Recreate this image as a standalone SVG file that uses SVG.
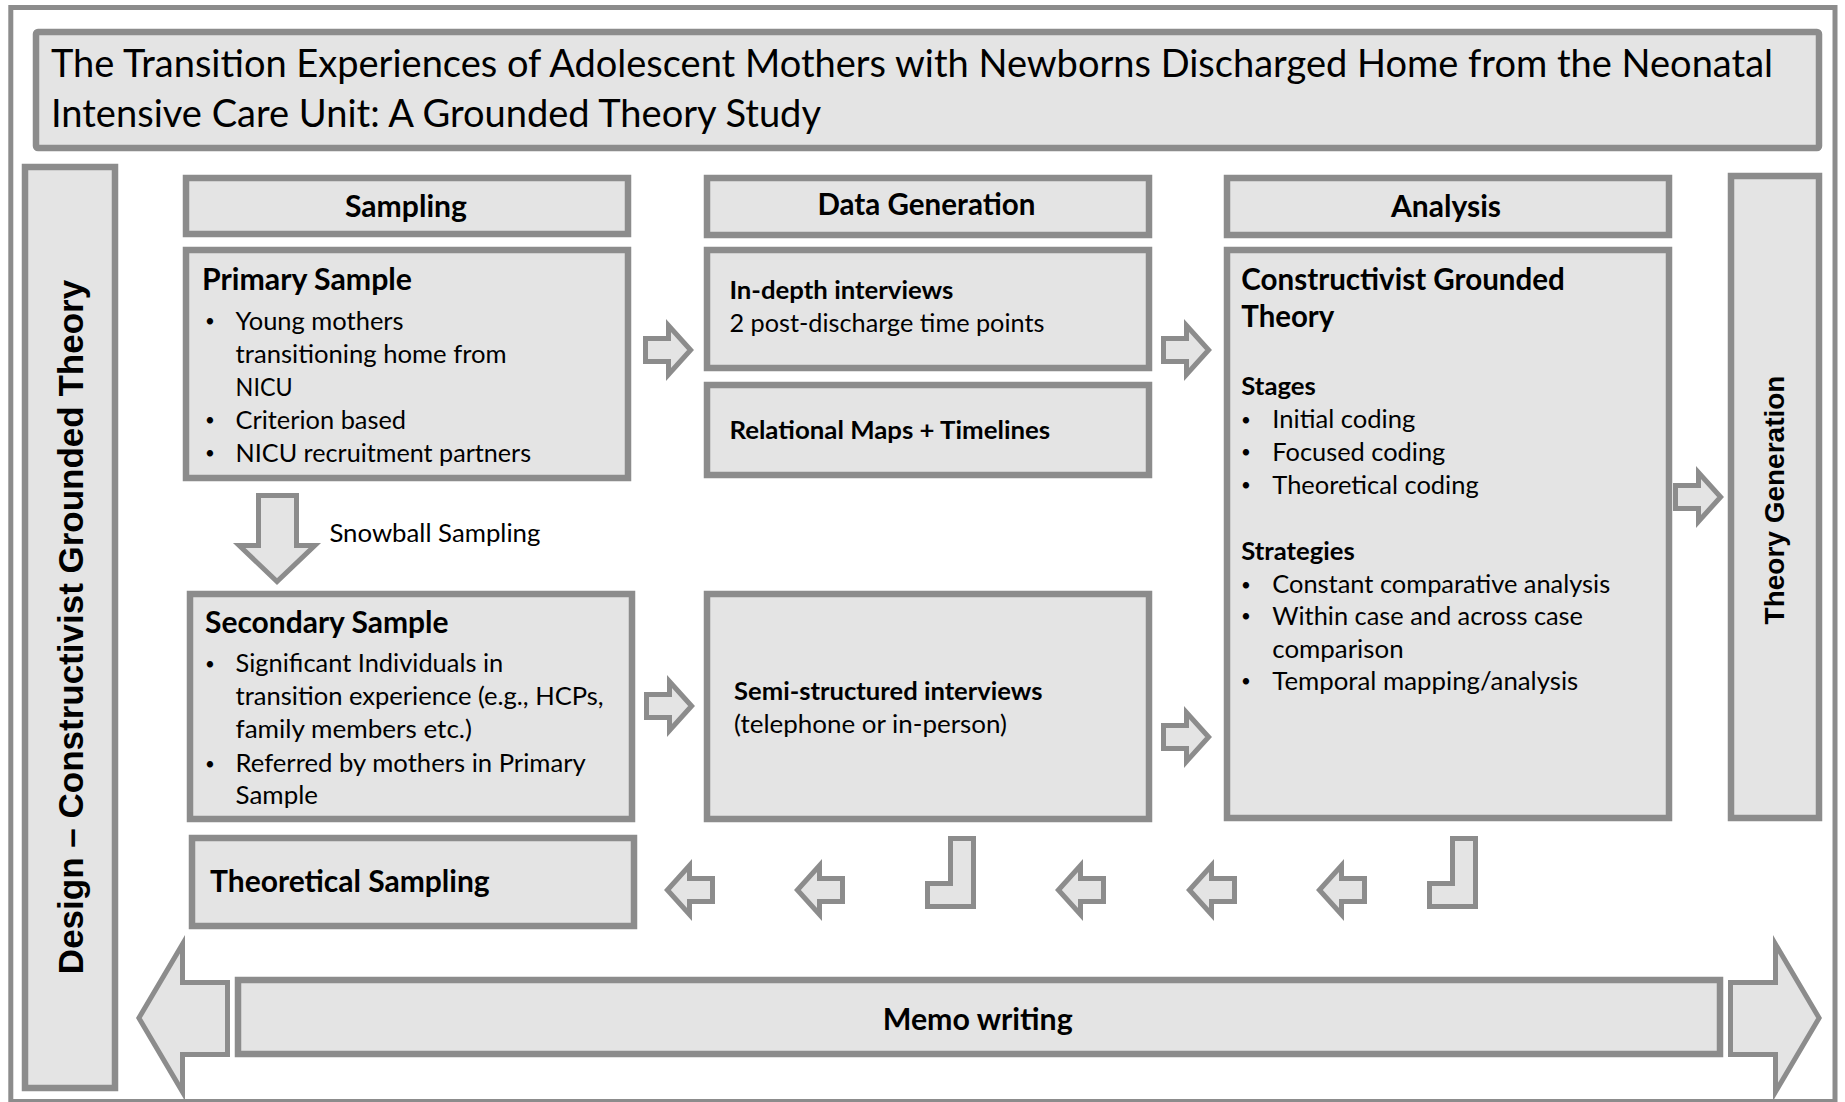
<svg xmlns="http://www.w3.org/2000/svg" width="1845" height="1102" viewBox="0 0 1845 1102">
  <style>
    .box{fill:#e4e4e4;stroke:#8c8c8c;stroke-width:6.5}
    .frame{fill:none;stroke:#8c8c8c;stroke-width:5}
    .arw{fill:#e4e4e4;stroke:#8c8c8c;stroke-width:5;stroke-linejoin:miter;stroke-miterlimit:10}
    .t{font-family:Lato,"Open Sans","Liberation Sans",sans-serif;fill:#000}
    .r{font-size:25.5px}
    .bul{font-size:17px}
    .b27{font-size:25.5px;font-weight:bold}
    .b32{font-size:30px;font-weight:bold}
    .title{font-size:38.5px}
    .v{font-family:"Liberation Sans",Arial,sans-serif;font-weight:bold;fill:#000}
  </style>
  <defs>
    <!-- block arrow pointing right; origin at tail, vertically centred -->
    <path id="rarrow" d="M2.5,-11.5 H25.5 V-24.4 L47.6,0 L25.5,24.4 V11.5 H2.5 Z"/>
  </defs>

  <rect x="0" y="0" width="1845" height="1102" fill="#ffffff"/>
  <rect class="frame" x="10.8" y="7.5" width="1824.2" height="1094"/>

  <g id="title">
    <rect class="box" x="36" y="32" width="1783" height="116" rx="2"/>
    <text class="t title" x="51" y="77" textLength="1722" lengthAdjust="spacingAndGlyphs">The Transition Experiences of Adolescent Mothers with Newborns Discharged Home from the Neonatal</text>
    <text class="t title" x="51" y="126.5" textLength="770" lengthAdjust="spacingAndGlyphs">Intensive Care Unit: A Grounded Theory Study</text>
  </g>

  <g id="design">
    <rect class="box" x="25" y="167" width="90" height="921"/>
    <text class="v" font-size="35" text-anchor="middle" transform="translate(83,627) rotate(-90)">Design – Constructivist Grounded Theory</text>
  </g>

  <g id="sampling-header">
    <rect class="box" x="186" y="178" width="442" height="56"/>
    <text class="t b32" x="345" y="217" textLength="122" lengthAdjust="spacingAndGlyphs">Sampling</text>
  </g>

  <g id="primary-sample">
    <rect class="box" x="186" y="250" width="442" height="228"/>
    <text class="t b32" x="202" y="289.5" textLength="210" lengthAdjust="spacingAndGlyphs">Primary Sample</text>
    <g class="t bul" text-anchor="middle">
      <text x="210" y="327">•</text>
      <text x="210" y="426">•</text>
      <text x="210" y="459">•</text>
    </g>
    <g class="t r">
      <text x="235.6" y="329.5" textLength="168" lengthAdjust="spacingAndGlyphs">Young mothers</text>
      <text x="235.6" y="362.5" textLength="271" lengthAdjust="spacingAndGlyphs">transitioning home from</text>
      <text x="235.6" y="395.5" textLength="57" lengthAdjust="spacingAndGlyphs">NICU</text>
      <text x="235.6" y="428.5" textLength="170.5" lengthAdjust="spacingAndGlyphs">Criterion based</text>
      <text x="235.6" y="461.5" textLength="295.5" lengthAdjust="spacingAndGlyphs">NICU recruitment partners</text>
    </g>
  </g>

  <g id="snowball-label">
    <text class="t r" x="329.4" y="541.5" textLength="211" lengthAdjust="spacingAndGlyphs">Snowball Sampling</text>
  </g>

  <g id="secondary-sample">
    <rect class="box" x="190" y="594" width="442" height="225"/>
    <text class="t b32" x="205" y="632.5" textLength="243.5" lengthAdjust="spacingAndGlyphs">Secondary Sample</text>
    <g class="t bul" text-anchor="middle">
      <text x="210" y="670">•</text>
      <text x="210" y="769.5">•</text>
    </g>
    <g class="t r">
      <text x="235.6" y="672.2" textLength="267.6" lengthAdjust="spacingAndGlyphs">Significant Individuals in</text>
      <text x="235.6" y="704.8" textLength="368" lengthAdjust="spacingAndGlyphs">transition experience (e.g., HCPs,</text>
      <text x="235.6" y="737.5" textLength="236.4" lengthAdjust="spacingAndGlyphs">family members etc.)</text>
      <text x="235.6" y="771.5" textLength="350.2" lengthAdjust="spacingAndGlyphs">Referred by mothers in Primary</text>
      <text x="235.6" y="803.8" textLength="82.4" lengthAdjust="spacingAndGlyphs">Sample</text>
    </g>
  </g>

  <g id="theoretical-sampling">
    <rect class="box" x="192" y="838" width="442" height="88"/>
    <text class="t b32" x="210" y="891.5" textLength="279.7" lengthAdjust="spacingAndGlyphs">Theoretical Sampling</text>
  </g>

  <g id="data-generation-header">
    <rect class="box" x="707" y="178" width="442" height="57"/>
    <text class="t b32" x="817.4" y="215" textLength="218" lengthAdjust="spacingAndGlyphs">Data Generation</text>
  </g>

  <g id="in-depth-interviews">
    <rect class="box" x="707" y="250" width="442" height="118"/>
    <text class="t b27" x="729.4" y="299.2" textLength="224" lengthAdjust="spacingAndGlyphs">In-depth interviews</text>
    <text class="t r" x="729.4" y="332.2" textLength="315" lengthAdjust="spacingAndGlyphs">2 post-discharge time points</text>
  </g>

  <g id="relational-maps">
    <rect class="box" x="707" y="385" width="442" height="90"/>
    <text class="t b27" x="729.4" y="439.2" textLength="320.8" lengthAdjust="spacingAndGlyphs">Relational Maps + Timelines</text>
  </g>

  <g id="semi-structured-interviews">
    <rect class="box" x="707" y="594" width="442" height="225"/>
    <text class="t b27" x="734" y="699.8" textLength="308.5" lengthAdjust="spacingAndGlyphs">Semi-structured interviews</text>
    <text class="t r" x="734" y="732.5" textLength="272.9" lengthAdjust="spacingAndGlyphs">(telephone or in-person)</text>
  </g>

  <g id="analysis-header">
    <rect class="box" x="1227" y="178" width="442" height="57"/>
    <text class="t b32" x="1391" y="216.5" textLength="110" lengthAdjust="spacingAndGlyphs">Analysis</text>
  </g>

  <g id="analysis">
    <rect class="box" x="1227" y="250" width="442" height="568"/>
    <text class="t b32" x="1241.3" y="289.8" textLength="323.5" lengthAdjust="spacingAndGlyphs">Constructivist Grounded</text>
    <text class="t b32" x="1241.3" y="327.2" textLength="93" lengthAdjust="spacingAndGlyphs">Theory</text>
    <text class="t b27" x="1241.3" y="394.8" textLength="74.5" lengthAdjust="spacingAndGlyphs">Stages</text>
    <text class="t b27" x="1241.3" y="559.8" textLength="113.5" lengthAdjust="spacingAndGlyphs">Strategies</text>
    <g class="t bul" text-anchor="middle">
      <text x="1246" y="425.5">•</text>
      <text x="1246" y="458">•</text>
      <text x="1246" y="491">•</text>
      <text x="1246" y="590.5">•</text>
      <text x="1246" y="622">•</text>
      <text x="1246" y="687">•</text>
    </g>
    <g class="t r">
      <text x="1272.3" y="428.2" textLength="143" lengthAdjust="spacingAndGlyphs">Initial coding</text>
      <text x="1272.3" y="460.8" textLength="173" lengthAdjust="spacingAndGlyphs">Focused coding</text>
      <text x="1272.3" y="493.8" textLength="206.4" lengthAdjust="spacingAndGlyphs">Theoretical coding</text>
      <text x="1272.3" y="593.2" textLength="337.9" lengthAdjust="spacingAndGlyphs">Constant comparative analysis</text>
      <text x="1272.3" y="624.8" textLength="310.7" lengthAdjust="spacingAndGlyphs">Within case and across case</text>
      <text x="1272.3" y="657.5" textLength="131.3" lengthAdjust="spacingAndGlyphs">comparison</text>
      <text x="1272.3" y="689.8" textLength="306" lengthAdjust="spacingAndGlyphs">Temporal mapping/analysis</text>
    </g>
  </g>

  <g id="theory-generation">
    <rect class="box" x="1731" y="176" width="88" height="642"/>
    <text class="v" font-size="28" text-anchor="middle" transform="translate(1784,500) rotate(-90)">Theory Generation</text>
  </g>

  <g id="memo-writing">
    <rect class="box" x="238" y="980" width="1482" height="74"/>
    <text class="t b32" x="882.7" y="1030" textLength="190" lengthAdjust="spacingAndGlyphs">Memo writing</text>
  </g>

  <g id="connectors">
    <!-- forward flow -->
    <use href="#rarrow" class="arw" transform="translate(643,350)"/>
    <use href="#rarrow" class="arw" transform="translate(1161,350)"/>
    <use href="#rarrow" class="arw" transform="translate(644,706)"/>
    <use href="#rarrow" class="arw" transform="translate(1161,737)"/>
    <use href="#rarrow" class="arw" transform="translate(1673,497)"/>
    <!-- snowball sampling -->
    <polygon class="arw" points="258.5,495.5 296.5,495.5 296.5,545.5 314.8,545.5 277,581.6 239.2,545.5 258.5,545.5"/>
    <!-- feedback loop towards theoretical sampling -->
    <polygon class="arw" points="950.5,838.5 973.5,838.5 973.5,906.5 927.5,906.5 927.5,883.5 950.5,883.5"/>
    <polygon class="arw" points="1452.5,838.5 1475.5,838.5 1475.5,906.5 1429.5,906.5 1429.5,883.5 1452.5,883.5"/>
    <use href="#rarrow" class="arw" transform="translate(715,890) scale(-1,1)"/>
    <use href="#rarrow" class="arw" transform="translate(845,890) scale(-1,1)"/>
    <use href="#rarrow" class="arw" transform="translate(1106,890) scale(-1,1)"/>
    <use href="#rarrow" class="arw" transform="translate(1237,890) scale(-1,1)"/>
    <use href="#rarrow" class="arw" transform="translate(1367,890) scale(-1,1)"/>
    <!-- memo writing spans the whole process -->
    <polygon class="arw" points="227.5,982.5 182.5,982.5 182.5,944.2 138.9,1018 182.5,1091.8 182.5,1054.5 227.5,1054.5"/>
    <polygon class="arw" transform="translate(1958,0) scale(-1,1)" points="227.5,982.5 182.5,982.5 182.5,944.2 138.9,1018 182.5,1091.8 182.5,1054.5 227.5,1054.5"/>
  </g>
</svg>
